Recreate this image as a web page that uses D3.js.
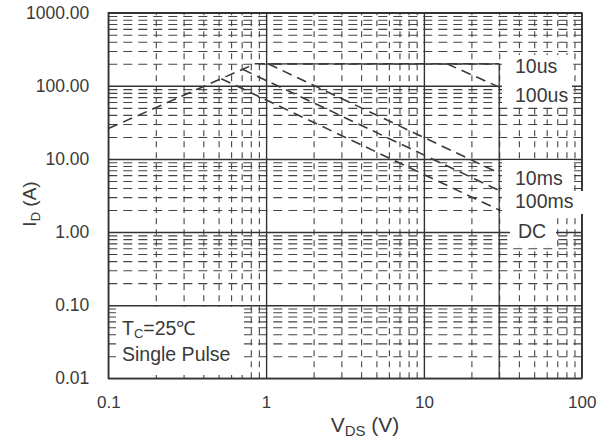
<!DOCTYPE html>
<html>
<head>
<meta charset="utf-8">
<script src="https://cdn.jsdelivr.net/npm/d3@7"></script>
<style>
body { margin: 0; background: #fff; }
svg text { font-family: "Liberation Sans", Arial, sans-serif; fill: #3a3a3a; }
</style>
</head>
<body>
<svg id="chart" width="613" height="443"></svg>
<script>
// axis ticks
let x_ticks = [0.1, 1, 10, 100];
let x_tick_labels = ["0.1", "1", "10", "100"];
let y_ticks = [0.01, 0.1, 1, 10, 100, 1000];
let y_tick_labels = ["0.01", "0.10", "1.00", "10.00", "100.00", "1000.00"];

// SOA limit lines, [VDS (V), ID (A)]
let rds_limit = [[0.1, 26], [0.85, 200]];
let limit_10us = [[0.85, 200], [30, 200]];
let limit_100us = [[14, 200], [30, 96]];
let limit_10ms = [[1.03, 200], [30, 6.4]];
let limit_100ms = [[0.71, 168], [30, 3.7]];
let limit_dc = [[0.52, 125], [30, 2.0]];
let vds_max = 30, id_max = 200;
let curve_names = ["10us", "100us", "10ms", "100ms", "DC"];

let svg = d3.select("#chart");
let p_left = 108.3, p_right = 581.7, p_top = 12.7, p_bottom = 378.3;

let x = d3.scaleLog().domain([0.1, 100]).range([p_left, p_right]);
let y = d3.scaleLog().domain([0.01, 1000]).range([p_bottom, p_top]);

// minor grid values (2..9 of every decade)
let x_minor = [], y_minor = [];
[0.1, 1, 10].forEach(function (d) {
    for (let k = 2; k <= 9; k++) x_minor.push(d * k);
});
[0.01, 0.1, 1, 10, 100].forEach(function (d) {
    for (let k = 2; k <= 9; k++) y_minor.push(d * k);
});

let grid = svg.append("g");

// dashed minor grid
grid.append("g")
    .attr("transform", "translate(0," + p_bottom + ")")
    .call(d3.axisBottom(x).tickValues(x_minor).tickSize(-(p_bottom - p_top)).tickFormat(""))
    .call(g => g.select(".domain").remove())
    .selectAll("line")
    .attr("stroke", "#444").attr("stroke-width", 1.1).attr("stroke-dasharray", "6,5");

grid.append("g")
    .attr("transform", "translate(" + p_left + ",0)")
    .call(d3.axisLeft(y).tickValues(y_minor).tickSize(-(p_right - p_left)).tickFormat(""))
    .call(g => g.select(".domain").remove())
    .selectAll("line")
    .attr("stroke", "#444").attr("stroke-width", 1.1).attr("stroke-dasharray", "9,6");

// solid major grid
grid.append("g")
    .attr("transform", "translate(0," + p_bottom + ")")
    .call(d3.axisBottom(x).tickValues(x_ticks).tickSize(-(p_bottom - p_top)).tickFormat(""))
    .call(g => g.select(".domain").remove())
    .selectAll("line")
    .attr("stroke", "#333").attr("stroke-width", 1.4);

grid.append("g")
    .attr("transform", "translate(" + p_left + ",0)")
    .call(d3.axisLeft(y).tickValues(y_ticks).tickSize(-(p_right - p_left)).tickFormat(""))
    .call(g => g.select(".domain").remove())
    .selectAll("line")
    .attr("stroke", "#333").attr("stroke-width", 1.4);

svg.append("rect")
    .attr("x", p_left).attr("y", p_top)
    .attr("width", p_right - p_left).attr("height", p_bottom - p_top)
    .attr("fill", "none").attr("stroke", "#333").attr("stroke-width", 1.4);

// white label boxes
let boxes = [
    [502, 55, 70, 50],
    [502, 160, 72, 54],
    [502, 191, 86, 23],
    [510, 214, 46, 32],
    [116, 307, 128, 68]
];
svg.selectAll(".box").data(boxes).enter().append("rect")
    .attr("class", "box")
    .attr("x", d => d[0]).attr("y", d => d[1])
    .attr("width", d => d[2]).attr("height", d => d[3])
    .attr("fill", "#fff");

// solid boundary: ID max and VDS max
svg.append("line")
    .attr("x1", x(1)).attr("x2", x(vds_max))
    .attr("y1", y(id_max)).attr("y2", y(id_max))
    .attr("stroke", "#333").attr("stroke-width", 1.3);
svg.append("line")
    .attr("x1", x(vds_max)).attr("x2", x(vds_max))
    .attr("y1", y(id_max)).attr("y2", y(0.01))
    .attr("stroke", "#333").attr("stroke-width", 1.3);

// dashed limit lines
let line = d3.line().x(d => x(d[0])).y(d => y(d[1]));
[rds_limit, limit_10us, limit_100us, limit_10ms, limit_100ms, limit_dc].forEach(function (pts) {
    svg.append("path")
        .attr("d", line(pts))
        .attr("fill", "none")
        .attr("stroke", "#3a3a3a")
        .attr("stroke-width", 1.6)
        .attr("stroke-dasharray", "10,6");
});

// curve labels
let label_y = [72.5, 102, 185, 207.5, 237.5];
let label_x = [515, 515, 515, 515, 518];
svg.selectAll(".curve_label").data(curve_names).enter().append("text")
    .attr("class", "curve_label")
    .attr("x", (d, i) => label_x[i])
    .attr("y", (d, i) => label_y[i])
    .attr("font-size", 19.5)
    .text(d => d);

// tick labels
svg.append("g")
    .attr("transform", "translate(0," + p_bottom + ")")
    .call(d3.axisBottom(x).tickValues(x_ticks).tickSize(0).tickPadding(18)
        .tickFormat((d, i) => x_tick_labels[i]))
    .call(g => g.select(".domain").remove())
    .selectAll("text").attr("font-size", 17).attr("fill", "#3a3a3a");

svg.append("g")
    .attr("transform", "translate(" + p_left + ",0)")
    .call(d3.axisLeft(y).tickValues(y_ticks).tickSize(0).tickPadding(19)
        .tickFormat((d, i) => y_tick_labels[i]))
    .call(g => g.select(".domain").remove())
    .selectAll("text").attr("font-size", 17.5).attr("fill", "#3a3a3a");

svg.selectAll("g").attr("font-family", null).attr("font-size", null);

// axis titles
let xt = svg.append("text").attr("x", 365).attr("y", 432).attr("text-anchor", "middle").attr("font-size", 21);
xt.append("tspan").text("V");
xt.append("tspan").attr("font-size", 15).attr("dy", 4).text("DS");
xt.append("tspan").attr("dy", -4).text(" (V)");

let yt = svg.append("text").attr("transform", "translate(36,204) rotate(-90)")
    .attr("text-anchor", "middle").attr("font-size", 19);
yt.append("tspan").text("I");
yt.append("tspan").attr("font-size", 13).attr("dy", 4).text("D");
yt.append("tspan").attr("dy", -4).text(" (A)");

// conditions
let tc = svg.append("text").attr("x", 122).attr("y", 335).attr("font-size", 19.5);
tc.append("tspan").text("T");
tc.append("tspan").attr("font-size", 13).attr("dy", 3).text("C");
tc.append("tspan").attr("dy", -3).text("=25\u2103");
svg.append("text").attr("x", 122).attr("y", 361).attr("font-size", 19.5).text("Single Pulse");
</script>
</body>
</html>
